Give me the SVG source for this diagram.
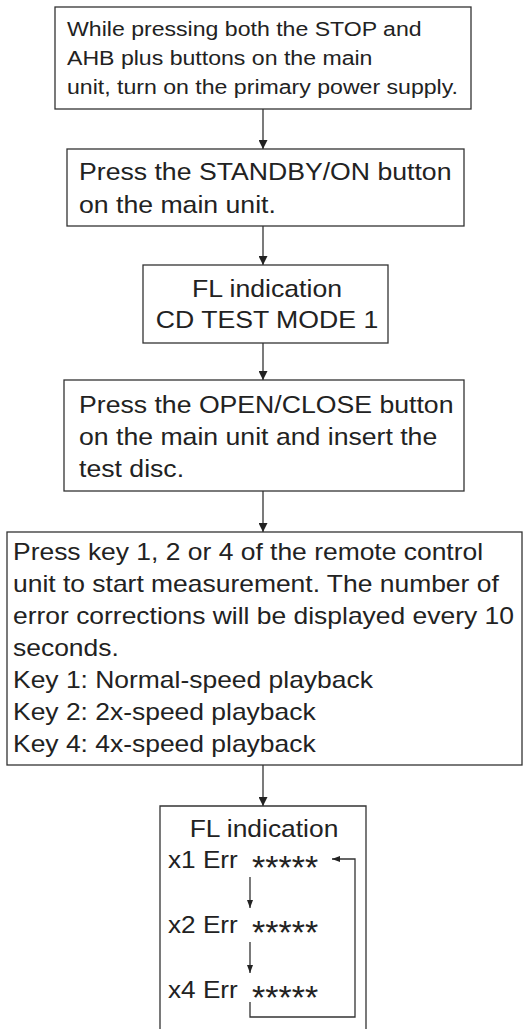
<svg xmlns="http://www.w3.org/2000/svg" width="523" height="1029" viewBox="0 0 523 1029">
<style>
.box{fill:#fff;stroke:#333;stroke-width:1.3}
.t{font-family:"Liberation Sans",Arial,sans-serif;fill:#222}
.s21{font-size:21px}
.s24{font-size:24px}
.s23{font-size:23px}
.ln{stroke:#333;stroke-width:1.3;fill:none}
.ast{font-family:"Liberation Sans",Arial,sans-serif;fill:#222;font-size:34px}
</style>
<defs>
<marker id="ah" markerWidth="9" markerHeight="9" viewBox="0 0 9 9" refX="9" refY="4.5" orient="auto" markerUnits="userSpaceOnUse">
<path d="M0,0 L9,4.5 L0,9 z" fill="#222"/>
</marker>
<marker id="ahs" markerWidth="8" markerHeight="6" viewBox="0 0 8 6" refX="8" refY="3" orient="auto" markerUnits="userSpaceOnUse">
<path d="M0,0 L8,3 L0,6 z" fill="#222"/>
</marker>
</defs>
<rect width="523" height="1029" fill="#fff"/>
<g id="node1">
<rect class="box" x="55" y="7" width="416" height="102"/>
<g transform="matrix(1.1 0 0 1 67 0)">
<text class="t s21" x="0" y="36">While pressing both the STOP and</text>
<text class="t s21" x="0" y="65">AHB plus buttons on the main</text>
<text class="t s21" x="0" y="94">unit, turn on the primary power supply.</text>
</g>
</g>
<g id="node2">
<rect class="box" x="67" y="149" width="397" height="77"/>
<g transform="matrix(1.11 0 0 1 79 0)">
<text class="t s24" x="0" y="180">Press the STANDBY/ON button</text>
<text class="t s24" x="0" y="213">on the main unit.</text>
</g>
</g>
<g id="node3">
<rect class="box" x="143" y="265" width="245" height="78"/>
<g transform="matrix(1.11 0 0 1 267 0)">
<text class="t s24" x="0" y="297" text-anchor="middle">FL indication</text>
<text class="t s24" x="0" y="328" text-anchor="middle">CD TEST MODE 1</text>
</g>
</g>
<g id="node4">
<rect class="box" x="64" y="380" width="400" height="111"/>
<g transform="matrix(1.11 0 0 1 79 0)">
<text class="t s24" x="0" y="413">Press the OPEN/CLOSE button</text>
<text class="t s24" x="0" y="445">on the main unit and insert the</text>
<text class="t s24" x="0" y="477">test disc.</text>
</g>
</g>
<g id="node5">
<rect class="box" x="7" y="532" width="515" height="233"/>
<g transform="matrix(1.15 0 0 1 13 0)">
<text class="t s23" x="0" y="560">Press key 1, 2 or 4 of the remote control</text>
<text class="t s23" x="0" y="592">unit to start measurement. The number of</text>
<text class="t s23" x="0" y="624">error corrections will be displayed every 10</text>
<text class="t s23" x="0" y="656">seconds.</text>
<text class="t s23" x="0" y="688">Key 1: Normal-speed playback</text>
<text class="t s23" x="0" y="720">Key 2: 2x-speed playback</text>
<text class="t s23" x="0" y="752">Key 4: 4x-speed playback</text>
</g>
</g>
<g id="node6">
<path class="box" d="M160,1029 L160,806 L366,806 L366,1029"/>
<g transform="matrix(1.1 0 0 1 264 0)">
<text class="t s24" x="0" y="837" text-anchor="middle">FL indication</text>
</g>
<g transform="matrix(1.09 0 0 1 168 0)">
<text class="t s24" x="0" y="868">x1 Err</text>
<text class="t s24" x="0" y="933">x2 Err</text>
<text class="t s24" x="0" y="998">x4 Err</text>
</g>
<text class="ast" x="252" y="879">*****</text>
<text class="ast" x="252" y="944">*****</text>
<text class="ast" x="252" y="1009">*****</text>
</g>
<g id="connectors">
<line class="ln" x1="263" y1="109" x2="263" y2="149" marker-end="url(#ah)"/>
<line class="ln" x1="263" y1="226" x2="263" y2="265" marker-end="url(#ah)"/>
<line class="ln" x1="263" y1="343" x2="263" y2="380" marker-end="url(#ah)"/>
<line class="ln" x1="263" y1="491" x2="263" y2="532" marker-end="url(#ah)"/>
<line class="ln" x1="263" y1="765" x2="263" y2="806" marker-end="url(#ah)"/>
<line class="ln" x1="250" y1="877" x2="250" y2="908" marker-end="url(#ahs)"/>
<line class="ln" x1="250" y1="942" x2="250" y2="973" marker-end="url(#ahs)"/>
<polyline class="ln" points="250,1002 250,1017 355,1017 355,859 332,859" marker-end="url(#ahs)"/>
</g>
</svg>
